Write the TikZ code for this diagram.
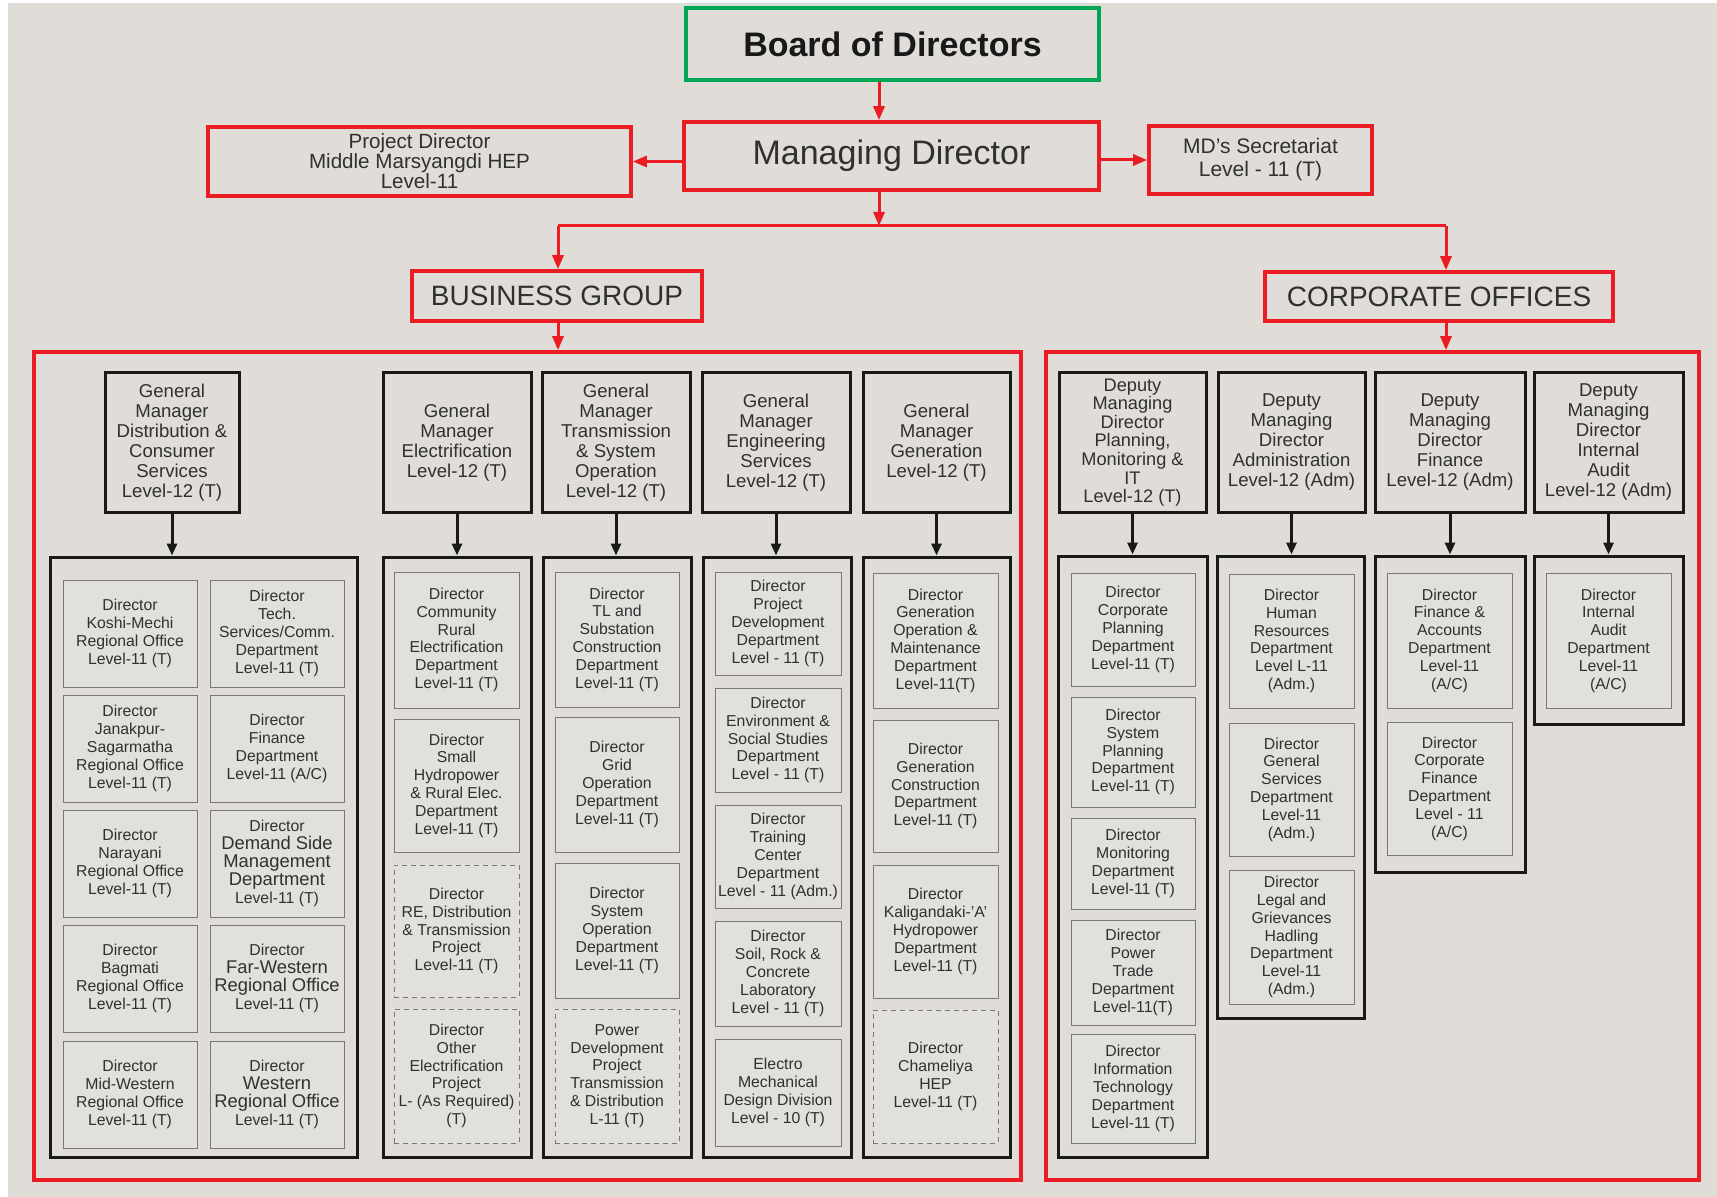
\documentclass[tikz,border=0pt]{standalone}
\usepackage{fontspec}
\setmainfont{Liberation Sans}
\usetikzlibrary{arrows.meta}

\definecolor{nered}{RGB}{236,28,36}
\definecolor{negreen}{RGB}{0,166,81}
\definecolor{bggray}{RGB}{224,221,217}
\definecolor{cellgray}{RGB}{226,224,220}
\definecolor{cellline}{RGB}{120,120,120}
\definecolor{inkgray}{RGB}{48,48,48}

\tikzset{every picture/.style={line width=0.75pt}}
\tikzset{
  redbox/.style={draw=nered, line width=1.8pt, fill=bggray, inner sep=0pt, align=center, text=inkgray},
  greenbox/.style={draw=negreen, line width=1.8pt, fill=bggray, inner sep=0pt, align=center, text=black!90},
  redpanel/.style={draw=nered, line width=1.8pt, inner sep=0pt},
  panel/.style={draw=black!90, line width=1.5pt, inner sep=0pt},
  gmbox/.style={draw=black!90, line width=1.5pt, fill=bggray, inner sep=0pt, align=center, text=inkgray, font=\fontsize{9.3}{10}\selectfont},
  cell/.style={draw=cellline, line width=0.5pt, fill=cellgray, inner sep=0pt, align=center, text=inkgray, font=\fontsize{7.9}{8.9}\selectfont},
  dashcell/.style={cell, dash pattern=on 2.5pt off 2pt},
  redarrow/.style={draw=nered, line width=1.5pt, -{Triangle[length=7pt,width=5.5pt]}},
  redline/.style={draw=nered, line width=1.5pt},
  blkarrow/.style={draw=black!90, line width=1.5pt, -{Triangle[length=6pt,width=5pt]}}
}

% box from its two corners: style, name, x1, y1, x2, y2, text
\newcommand{\orgbox}[7]{%
  \node[#1, minimum width={((#5)-(#3))/2}, minimum height={((#6)-(#4))/2}] (#2) at ({((#3)+(#5))/2},{((#4)+(#6))/2}) {#7};}
% larger line inside a cell
\newcommand{\bigln}[1]{{\fontsize{9.2}{10}\selectfont #1}}

\begin{document}
\begin{tikzpicture}[x=0.5pt,y=0.5pt,yscale=-1,xscale=1]
\useasboundingbox (0,0) rectangle (1717,1197);

%Background
\fill[white] (0,0) rectangle (1717,1197);
\fill[bggray] (8,3) rectangle (1717,1197);

%Top level
\orgbox{greenbox,font=\fontsize{17}{20}\bfseries}{bod}{686}{8}{1099}{80}{Board of Directors}
\orgbox{redbox,font=\fontsize{17}{20}\selectfont}{md}{684}{122}{1099}{190}{Managing Director}
\orgbox{redbox,font=\fontsize{10.3}{10}\selectfont}{pd}{208}{127}{631}{196}{Project Director\\Middle Marsyangdi HEP\\Level-11}
\orgbox{redbox,font=\fontsize{10.5}{11.5}\selectfont}{mds}{1149}{126}{1372}{194}{MD's Secretariat\\Level - 11 (T)}
\orgbox{redbox,font=\fontsize{14}{16}\selectfont}{bg}{412}{271}{702}{321}{BUSINESS GROUP}
\orgbox{redbox,font=\fontsize{14}{16}\selectfont}{co}{1265}{272}{1613}{321}{CORPORATE OFFICES}

%Red containers
\orgbox{redpanel}{bpanel}{34}{352}{1021}{1180}{}
\orgbox{redpanel}{cpanel}{1046}{352}{1699}{1180}{}

%Red connectors
\coordinate (split) at (879,226);
\coordinate (bgjoin) at (558,226);
\coordinate (cojoin) at (1446,226);
\draw[redarrow] (bod.south -| split) -- (md.north -| split);
\draw[redarrow] (md.west |- pd.east) -- (pd.east);
\draw[redarrow] (md.east |- mds.west) -- (mds.west);
\draw[redarrow] (md.south -| split) -- (split);
\draw[redline] (bgjoin) -- (cojoin);
\draw[redarrow] (bgjoin) -- (bgjoin |- bg.north);
\draw[redarrow] (cojoin) -- (cojoin |- co.north);
\draw[redarrow] (bgjoin |- bg.south) -- (bgjoin |- bpanel.north);
\draw[redarrow] (cojoin |- co.south) -- (cojoin |- cpanel.north);

%Distribution & Consumer Services
\orgbox{gmbox}{gmdist}{105}{373}{239}{512}{General\\Manager\\Distribution \&\\Consumer\\Services\\Level-12 (T)}
\orgbox{panel}{pdist}{50}{557}{357}{1157}{}
\orgbox{cell}{dkm}{63}{580}{197}{687}{Director\\Koshi-Mechi\\Regional Office\\Level-11 (T)}
\orgbox{cell}{dtech}{210}{580}{344}{687}{Director\\Tech.\\Services/Comm.\\Department\\Level-11 (T)}
\orgbox{cell}{djs}{63}{695}{197}{802}{Director\\Janakpur-\\Sagarmatha\\Regional Office\\Level-11 (T)}
\orgbox{cell}{dfin}{210}{695}{344}{802}{Director\\Finance\\Department\\Level-11 (A/C)}
\orgbox{cell}{dnar}{63}{810}{197}{917}{Director\\Narayani\\Regional Office\\Level-11 (T)}
\orgbox{cell}{ddsm}{210}{810}{344}{917}{Director\\\bigln{Demand Side}\\\bigln{Management}\\\bigln{Department}\\Level-11 (T)}
\orgbox{cell}{dbag}{63}{925}{197}{1032}{Director\\Bagmati\\Regional Office\\Level-11 (T)}
\orgbox{cell}{dfw}{210}{925}{344}{1032}{Director\\\bigln{Far-Western}\\\bigln{Regional Office}\\Level-11 (T)}
\orgbox{cell}{dmw}{63}{1041}{197}{1148}{Director\\Mid-Western\\Regional Office\\Level-11 (T)}
\orgbox{cell}{dwes}{210}{1041}{344}{1148}{Director\\\bigln{Western}\\\bigln{Regional Office}\\Level-11 (T)}
\draw[blkarrow] (gmdist.south) -- (gmdist.south |- pdist.north);

%Electrification
\orgbox{gmbox}{gmelec}{383}{373}{531}{512}{General\\Manager\\Electrification\\Level-12 (T)}
\orgbox{panel}{pelec}{383}{557}{531}{1157}{}
\orgbox{cell}{ecre}{394}{572}{519}{708}{Director\\Community\\Rural\\Electrification\\Department\\Level-11 (T)}
\orgbox{cell}{eshp}{394}{719}{519}{852}{Director\\Small\\Hydropower\\\& Rural Elec.\\Department\\Level-11 (T)}
\orgbox{dashcell}{ered}{394}{865}{519}{997}{Director\\RE, Distribution\\\& Transmission\\Project\\Level-11 (T)}
\orgbox{dashcell}{eoth}{394}{1009}{519}{1143}{Director\\Other\\Electrification\\Project\\L- (As Required)\\(T)}
\draw[blkarrow] (gmelec.south) -- (gmelec.south |- pelec.north);

%Transmission & System Operation
\orgbox{gmbox}{gmtrans}{542}{373}{690}{512}{General\\Manager\\Transmission\\\& System\\Operation\\Level-12 (T)}
\orgbox{panel}{ptrans}{543}{557}{691}{1157}{}
\orgbox{cell}{ttl}{555}{572}{679}{707}{Director\\TL and\\Substation\\Construction\\Department\\Level-11 (T)}
\orgbox{cell}{tgrid}{555}{717}{679}{852}{Director\\Grid\\Operation\\Department\\Level-11 (T)}
\orgbox{cell}{tsys}{555}{863}{679}{998}{Director\\System\\Operation\\Department\\Level-11 (T)}
\orgbox{dashcell}{tpdp}{555}{1009}{679}{1143}{Power\\Development\\Project\\Transmission\\\& Distribution\\L-11 (T)}
\draw[blkarrow] (gmtrans.south) -- (gmtrans.south |- ptrans.north);

%Engineering Services
\orgbox{gmbox}{gmeng}{702}{373}{850}{512}{General\\Manager\\Engineering\\Services\\Level-12 (T)}
\orgbox{panel}{peng}{703}{557}{851}{1157}{}
\orgbox{cell}{sproj}{715}{572}{841}{675}{Director\\Project\\Development\\Department\\Level - 11 (T)}
\orgbox{cell}{senv}{715}{688}{841}{792}{Director\\Environment \&\\Social Studies\\Department\\Level - 11 (T)}
\orgbox{cell}{strain}{715}{805}{841}{908}{Director\\Training\\Center\\Department\\Level - 11 (Adm.)}
\orgbox{cell}{ssoil}{715}{921}{841}{1026}{Director\\Soil, Rock \&\\Concrete\\Laboratory\\Level - 11 (T)}
\orgbox{cell}{selm}{715}{1039}{841}{1146}{Electro\\Mechanical\\Design Division\\Level - 10 (T)}
\draw[blkarrow] (gmeng.south) -- (gmeng.south |- peng.north);

%Generation
\orgbox{gmbox}{gmgen}{863}{373}{1010}{512}{General\\Manager\\Generation\\Level-12 (T)}
\orgbox{panel}{pgen}{863}{557}{1010}{1157}{}
\orgbox{cell}{gom}{873}{573}{998}{708}{Director\\Generation\\Operation \&\\Maintenance\\Department\\Level-11(T)}
\orgbox{cell}{gcon}{873}{720}{998}{852}{Director\\Generation\\Construction\\Department\\Level-11 (T)}
\orgbox{cell}{gkal}{873}{865}{998}{998}{Director\\Kaligandaki-'A'\\Hydropower\\Department\\Level-11 (T)}
\orgbox{dashcell}{gcham}{873}{1010}{998}{1143}{Director\\Chameliya\\HEP\\Level-11 (T)}
\draw[blkarrow] (gmgen.south) -- (gmgen.south |- pgen.north);

%Planning, Monitoring & IT
\orgbox{gmbox,font=\fontsize{9.1}{9.3}\selectfont}{dmdplan}{1059}{373}{1206}{512}{Deputy\\Managing\\Director\\Planning,\\Monitoring \&\\IT\\Level-12 (T)}
\orgbox{panel}{pplan}{1058}{556}{1207}{1157}{}
\orgbox{cell}{pcorp}{1071}{573}{1195}{686}{Director\\Corporate\\Planning\\Department\\Level-11 (T)}
\orgbox{cell}{psys}{1071}{697}{1195}{807}{Director\\System\\Planning\\Department\\Level-11 (T)}
\orgbox{cell}{pmon}{1071}{818}{1195}{909}{Director\\Monitoring\\Department\\Level-11 (T)}
\orgbox{cell}{ptrade}{1071}{920}{1195}{1025}{Director\\Power\\Trade\\Department\\Level-11(T)}
\orgbox{cell}{pit}{1071}{1034}{1195}{1143}{Director\\Information\\Technology\\Department\\Level-11 (T)}
\draw[blkarrow] (dmdplan.south) -- (dmdplan.south |- pplan.north);

%Administration
\orgbox{gmbox}{dmdadm}{1218}{373}{1365}{512}{Deputy\\Managing\\Director\\Administration\\Level-12 (Adm)}
\orgbox{panel}{padm}{1217}{556}{1364}{1018}{}
\orgbox{cell}{ahr}{1229}{574}{1354}{708}{Director\\Human\\Resources\\Department\\Level L-11\\(Adm.)}
\orgbox{cell}{agen}{1229}{723}{1354}{856}{Director\\General\\Services\\Department\\Level-11\\(Adm.)}
\orgbox{cell}{alegal}{1229}{870}{1354}{1004}{Director\\Legal and\\Grievances\\Hadling\\Department\\Level-11\\(Adm.)}
\draw[blkarrow] (dmdadm.south) -- (dmdadm.south |- padm.north);

%Finance
\orgbox{gmbox}{dmdfin}{1375}{373}{1525}{512}{Deputy\\Managing\\Director\\Finance\\Level-12 (Adm)}
\orgbox{panel}{pfin}{1375}{556}{1525}{872}{}
\orgbox{cell}{facc}{1387}{573}{1512}{708}{Director\\Finance \&\\Accounts\\Department\\Level-11\\(A/C)}
\orgbox{cell}{fcorp}{1387}{722}{1512}{855}{Director\\Corporate\\Finance\\Department\\Level - 11\\(A/C)}
\draw[blkarrow] (dmdfin.south) -- (dmdfin.south |- pfin.north);

%Internal Audit
\orgbox{gmbox}{dmdaud}{1534}{373}{1683}{512}{Deputy\\Managing\\Director\\Internal\\Audit\\Level-12 (Adm)}
\orgbox{panel}{paud}{1534}{556}{1683}{724}{}
\orgbox{cell}{iaud}{1546}{573}{1671}{708}{Director\\Internal\\Audit\\Department\\Level-11\\(A/C)}
\draw[blkarrow] (dmdaud.south) -- (dmdaud.south |- paud.north);

\end{tikzpicture}
\end{document}
